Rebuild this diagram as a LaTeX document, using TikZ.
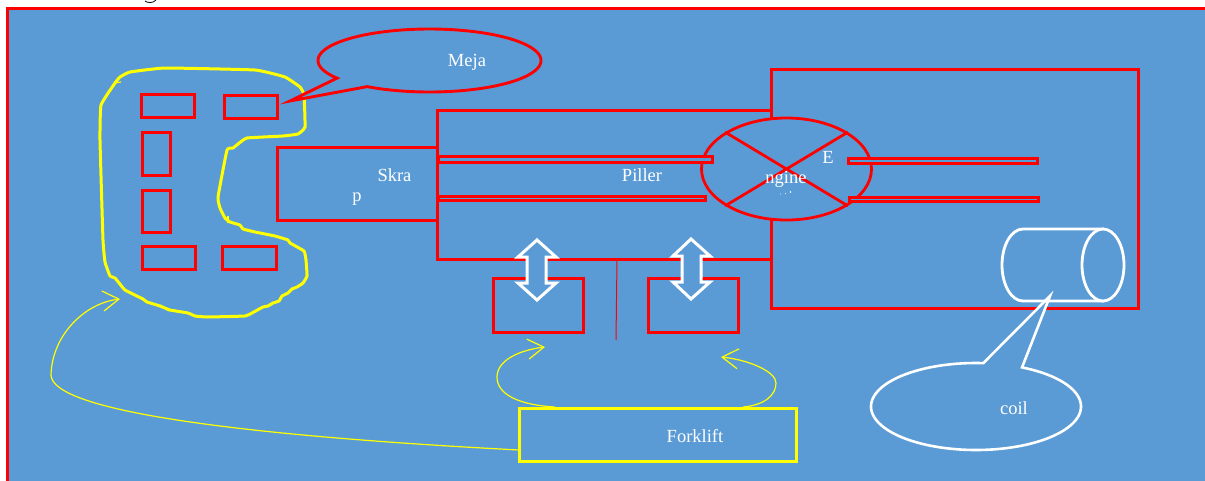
\documentclass[tikz,border=0pt]{standalone}
\usepackage{fontspec}
\setmainfont{Liberation Serif}
\usetikzlibrary{arrows.meta,shapes.geometric}
\definecolor{bgblue}{HTML}{5B9BD5}
\definecolor{myred}{HTML}{FF0000}
\definecolor{myyellow}{HTML}{FFFF00}
\tikzset{
  redbox/.style={draw=myred,line width=3pt,fill=bgblue,rectangle,inner sep=0pt,outer sep=0pt},
  pillar/.style={draw=myred,line width=3pt,fill=bgblue,rectangle,inner sep=0pt,outer sep=0pt},
  lbl/.style={text=white,font=\fontsize{18.5}{20}\selectfont,inner sep=0pt},
  thinyellow/.style={draw=myyellow,line width=1.2pt,-{Straight Barb[length=16pt,width=20pt]}},
  updown/.style={draw=white,line width=3pt,fill=bgblue,line join=miter},
  whiteline/.style={draw=white,line width=2.8pt,fill=bgblue},
  blobline/.style={draw=myyellow,line width=3pt,line join=round,line cap=round},
}
\begin{document}
\begin{tikzpicture}[x=1pt,y=-1pt]
\clip (0,0) rectangle (1205,480);
\fill[white] (0,0) rectangle (1205,480);
% frame
\draw[draw=myred,line width=3pt,fill=bgblue] (7,8) rectangle (1230,500);
% clipped mark at the top
\draw[black,line width=0.8pt] (145,1) .. controls (148,3.2) and (153,3.2) .. (156,0);
% table blob
\draw[blobline] plot[smooth cycle,tension=0.2] coordinates {
 (115,83) (120,77) (130,72) (165,68) (255,70) (285,77) (300,87) (304,95) (305,127) (298,134)
 (283,136) (247,138) (238,144) (233,148) (227,150) (218,197) (220,208) (225,218) (230,222) (240,225) (243,229)
 (255,232) (275,236) (288,240) (290,243) (304,251) (306,260) (307,276) (303,283) (297,287)
 (292,289) (288,293) (282,296) (279,301) (273,303) (268,306) (263,307) (252,313) (245,316) (207,317) (195,316) (188,313) (170,310) (160,306) (147,302) (143,299)
 (125,290) (115,278) (110,276) (105,262) (103,240) (100,140) (101,105)};
% small nicks on the hand-drawn outline
\draw[myyellow,line width=1.2pt] (114,83) -- (121,82);
\draw[myyellow,line width=1.2pt] (233,148) -- (241,142);
\draw[myyellow,line width=1.2pt] (228,223) -- (228,216);
\draw[myyellow,line width=1.2pt] (160,305) -- (169,311);
% table rectangles
\node[redbox,minimum width=53pt,minimum height=23pt] (t1) at (167.5,105.5) {};
\node[redbox,minimum width=53pt,minimum height=23pt] (t2) at (250.5,106.5) {};
\node[redbox,minimum width=28pt,minimum height=43pt] (t3) at (156,153.5) {};
\node[redbox,minimum width=28pt,minimum height=42pt] (t4) at (156,211) {};
\node[redbox,minimum width=53pt,minimum height=23pt] (t5) at (168.5,258) {};
\node[redbox,minimum width=54pt,minimum height=23pt] (t6) at (249,258) {};
% machine
\node[redbox,minimum width=367pt,minimum height=239pt] (room) at (954.5,188.5) {};
\node[redbox,minimum width=334pt,minimum height=149pt] (body) at (604,184.5) {};
\node[redbox,minimum width=160pt,minimum height=73pt] (skrap) at (357,184) {};
\node[draw=myred,line width=2.8pt,fill=bgblue,ellipse,inner sep=0pt,minimum width=170pt,minimum height=102pt] (eng) at (786.5,169) {};
\draw[myred,line width=2.8pt] (eng.31) -- (eng.211);
\draw[myred,line width=2.8pt] (eng.149) -- (eng.329);
\node[pillar,minimum width=274pt,minimum height=5.5pt] (p1) at (575,159.3) {};
\node[pillar,minimum width=267pt,minimum height=4pt] (p2) at (571.5,198) {};
\node[pillar,minimum width=189pt,minimum height=5pt] (p3) at (942.5,160.5) {};
\node[pillar,minimum width=189pt,minimum height=4pt] (p4) at (943.5,199) {};
% lower boxes and divider
\node[redbox,minimum width=90pt,minimum height=54pt] (b1) at (538,305) {};
\node[redbox,minimum width=90pt,minimum height=54pt] (b2) at (693,305) {};
\coordinate (divend) at (616,340);
\draw[myred,line width=1pt] (617,259) -- (divend);
% double arrows
\draw[updown] (537,240) -- (556,257) -- (546,257) -- (546,283) -- (556,283) -- (537,300) -- (518,283) -- (527,283) -- (527,257) -- (518,257) -- cycle;
\draw[updown] (691,239) -- (710,256) -- (701,256) -- (701,282) -- (710,282) -- (691,299) -- (673,282) -- (682,282) -- (682,256) -- (673,256) -- cycle;
% coil
\draw[whiteline] (1023,229) -- (1103,229) -- (1103,301) -- (1023,301) arc[start angle=90,end angle=270,x radius=21,y radius=36] -- cycle;
\draw[whiteline] (1103,265) ellipse[x radius=21,y radius=36];
% callouts
\draw[draw=myred,line width=2.9pt,fill=bgblue,line join=miter] plot[domain=124:-214,samples=120] ({429.5+111.5*cos(\x)},{60.5+31.5*sin(\x)}) -- (290,101) -- cycle;
\draw[draw=white,line width=2.6pt,fill=bgblue,line join=miter] plot[domain=-64:274,samples=120] ({976+105*cos(\x)},{406.5+43.5*sin(\x)}) -- (1050,296) -- cycle;
% forklift and its arrows
\coordinate (blobIn) at (120,299);
\coordinate (b1In) at (545,347);
\coordinate (b2In) at (721,357);
\coordinate (fkA) at (519,450);
\coordinate (fkB) at (555,407);
\coordinate (fkC) at (743,407);
\draw[thinyellow] (fkA) .. controls (230,435) and (52,410) .. (51,375) .. controls (52,335) and (85,303) .. (blobIn);
\draw[thinyellow] (fkB) .. controls (520,405) and (497,395) .. (497,377) .. controls (497,360) and (520,350) .. (b1In);
\draw[thinyellow] (fkC) .. controls (765,405) and (776,395) .. (776,383) .. controls (776,372) and (750,360) .. (b2In);
\node[draw=myyellow,line width=3pt,fill=bgblue,rectangle,inner sep=0pt,minimum width=277pt,minimum height=53pt] (fork) at (657.5,434.5) {};
% labels
\node[lbl] (lmeja) at (467,62) {Meja};
\node[lbl] (lskra) at (394.5,175) {Skra};
\node[lbl] (lp) at (357,199.5) {p};
\node[lbl] (lpiller) at (642,175) {Piller};
\node[lbl] (le) at (828,157) {E};
\node[lbl] (lngine) at (786,179) {ngine};
\node[lbl] (lfork) at (695,436) {Forklift};
\node[lbl] (lcoil) at (1014,408) {coil};
\fill[white] (780.5,194) circle (0.5pt) (785.5,193.5) circle (0.5pt) (790.5,192) circle (0.8pt);
\end{tikzpicture}
\end{document}
